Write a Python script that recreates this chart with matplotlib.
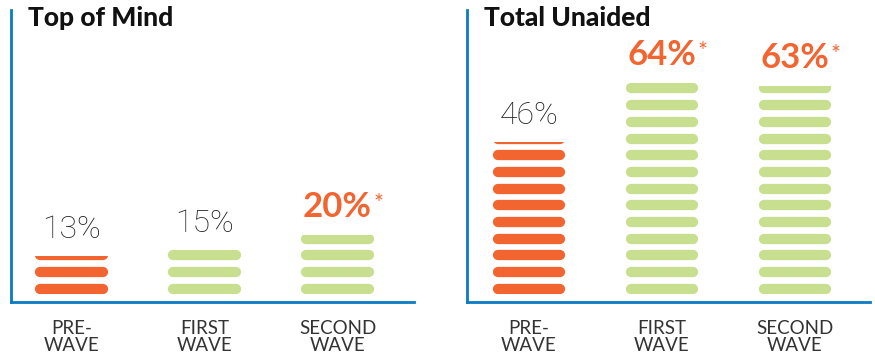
import matplotlib
matplotlib.use("Agg")
import matplotlib.pyplot as plt
from matplotlib.patches import Rectangle

categories = ["PRE-\nWAVE", "FIRST\nWAVE", "SECOND\nWAVE"]
panel_titles = ["Top of Mind", "Total Unaided"]
top_of_mind = [13, 15, 20]
total_unaided = [46, 64, 63]
top_sig = [False, False, True]
unaided_sig = [False, True, True]

ORANGE = "#F26531"
GREEN = "#C9DF90"
BLUE = "#0A7BC4"
DARK = "#333333"
bar_colors = [ORANGE, GREEN, GREEN]

DPI = 100
W, H = 875, 364
fig = plt.figure(figsize=(W / DPI, H / DPI), dpi=DPI)

# axes geometry in pixels
base_px = 302
top_px = 10
ax_h = base_px - top_px
ax_w = 403
panels = [
    dict(x0=11, vals=top_of_mind, sig=top_sig, scale=2.93, xleft=-0.455, title=panel_titles[0]),
    dict(x0=467, vals=total_unaided, sig=unaided_sig, scale=3.30, xleft=-0.466, title=panel_titles[1]),
]

stripe_h_px = 10.3
pitch_px = 16.7
bar_w_px = 73
offset_px = 8
xstep_px = 133.0

for p in panels:
    ax = fig.add_axes([p["x0"] / W, (H - base_px) / H, ax_w / W, ax_h / H])
    s = p["scale"]
    ax.set_ylim(-offset_px / s, (base_px - offset_px - top_px) / s)
    ax.set_xlim(p["xleft"], p["xleft"] + ax_w / xstep_px)
    for side in ["top", "right"]:
        ax.spines[side].set_visible(False)
    for side in ["left", "bottom"]:
        ax.spines[side].set_color(BLUE)
        ax.spines[side].set_linewidth(2.0)
    ax.set_yticks([])
    ax.set_xticks(range(len(categories)))
    ax.set_xticklabels(categories, fontsize=13.5, color=DARK, family="Lato")
    for lab in ax.get_xticklabels():
        lab.set_linespacing(1.0)
    ax.tick_params(axis="x", length=0, pad=13)

    bw = bar_w_px / xstep_px
    sh = stripe_h_px / s
    pitch = pitch_px / s
    lw_pt = stripe_h_px * 72 / DPI
    r = (stripe_h_px / 2) / xstep_px
    for i, v in enumerate(p["vals"]):
        clip = Rectangle((i - bw, 0), 2 * bw, v, transform=ax.transData)
        k = 0
        while k * pitch < v:
            yc = k * pitch + sh / 2
            ln, = ax.plot([i - bw / 2 + r, i + bw / 2 - r], [yc, yc], color=bar_colors[i],
                          lw=lw_pt, solid_capstyle="round")
            ln.set_clip_path(clip)
            k += 1
        ty = v + 18 / s
        if p["sig"][i]:
            t = ax.text(i, ty, f"{v}%", ha="center", va="baseline", fontsize=25,
                        color=ORANGE, fontweight="bold", family="Lato")
            ax.annotate("*", xy=(1, 1), xycoords=t, xytext=(1, -1.5), textcoords="offset points",
                        ha="left", va="top", fontsize=17, color=ORANGE, family="Lato")
        else:
            ax.text(i, ty, f"{v}%", ha="center", va="baseline", fontsize=23,
                    color="#222222", fontweight="light", family="Roboto")

    ax.text(17 / ax_w, (base_px - 26) / ax_h, p["title"], transform=ax.transAxes,
            ha="left", va="baseline", fontsize=19, fontweight="black", color="#111111",
            family="Lato")

fig.savefig("out.png", dpi=DPI)
